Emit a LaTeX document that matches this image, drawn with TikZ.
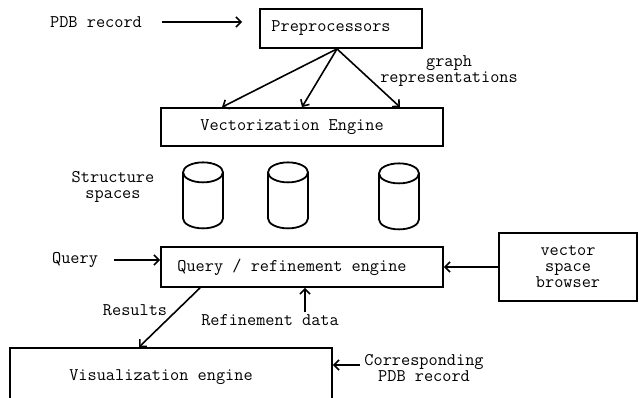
\documentclass[tikz,border=0pt]{standalone}
\usepackage{tikz}
\usetikzlibrary{positioning, arrows.meta, shapes.geometric}

\begin{document}
\begin{tikzpicture}[
    x=1pt, y=-1pt,
    every node/.style={font=\ttfamily\fontsize{17.8}{16}\selectfont, inner sep=2pt},
    box/.style={draw, rectangle, line width=1.8pt, execute at end node={\hspace*{20pt}}},
    cyl/.style={draw, cylinder, shape border rotate=90, line width=1.8pt,
        minimum width=40pt, minimum height=66pt, aspect=5},
    arr/.style={draw, line width=1.6pt, -{Straight Barb[length=5pt,width=10pt]}}
]
\useasboundingbox (0,0) rectangle (639,398);

% boxes
\node[box, minimum width=162pt, minimum height=39pt] (pre) at (341,28.5) {Preprocessors};
\node[box, minimum width=282pt, minimum height=38pt] (vec) at (302,127) {Vectorization Engine};
\node[box, minimum width=282pt, minimum height=40pt] (query) at (302,267) {Query / refinement engine};
\node[draw, rectangle, line width=1.8pt, minimum width=138pt, minimum height=68pt, align=center] (browser) at (568,267) {vector\\space\\browser};
\node[box, minimum width=322pt, minimum height=58pt] (vis) at (171,377) {Visualization engine};

% structure spaces
\node[cyl] (s1) at (203,203) {};
\node[cyl] (s2) at (288,203) {};
\node[cyl] (s3) at (399,204) {};

% labels
\node (pdb) at (96,22) {PDB record};
\node[align=center] (graph) at (449,71) {graph\\representations};
\node[align=center] (ss) at (113,187) {Structure\\spaces};
\node (q) at (75,260) {Query};
\node (res) at (135,310) {Results};
\node (ref) at (270,320) {Refinement data};
\node[align=center] (corr) at (424,368) {Corresponding\\PDB record};

% connectors
\draw[arr, shorten <=18pt, shorten >=17pt] (pdb.east) -- (pdb.east -| pre.west);
\draw[arr] ([xshift=-4pt]pre.south) -- ([xshift=-80pt]vec.north);
\draw[arr] ([xshift=-4pt]pre.south) -- (vec.north);
\draw[arr] ([xshift=-4pt]pre.south) -- ([xshift=98pt]vec.north);
\draw[arr, shorten <=14pt] (q.east) -- (q.east -| query.west);
\draw[arr] (browser.west) -- (query.east);
\draw[arr] ([xshift=-102pt]query.south) -- ([xshift=-32pt]vis.north);
\draw[arr] ([xshift=35pt]ref.north) -- ([xshift=3pt]query.south);
\draw[arr, shorten <=2pt] ([yshift=3pt]corr.west) -- ([yshift=3pt]corr.west -| vis.east);
\end{tikzpicture}
\end{document}
